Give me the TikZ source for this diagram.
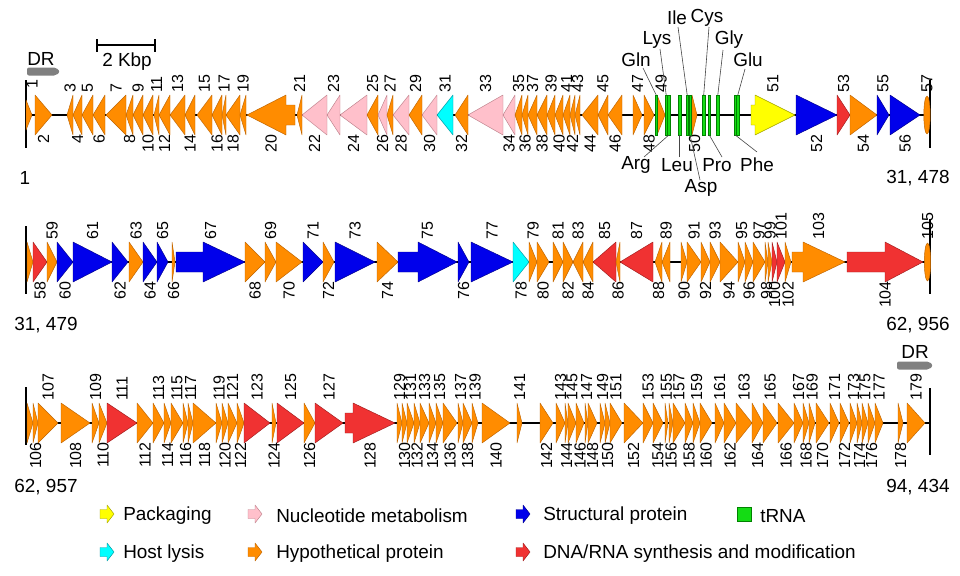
\documentclass[tikz,border=0pt]{standalone}
\usepackage{fontspec}
\setmainfont{Liberation Sans}
\definecolor{corange}{RGB}{255,140,0}
\definecolor{corangeD}{RGB}{190,100,0}
\definecolor{cpink}{RGB}{255,192,203}
\definecolor{cpinkD}{RGB}{190,130,140}
\definecolor{cblue}{RGB}{0,0,235}
\definecolor{cblueD}{RGB}{0,0,140}
\definecolor{ccyan}{RGB}{0,255,255}
\definecolor{ccyanD}{RGB}{0,150,160}
\definecolor{cred}{RGB}{240,50,50}
\definecolor{credD}{RGB}{160,30,30}
\definecolor{cyellow}{RGB}{255,255,0}
\definecolor{cyellowD}{RGB}{160,160,0}
\definecolor{cgreen}{RGB}{20,220,20}
\definecolor{cgreenD}{RGB}{0,130,0}
\definecolor{cgray}{RGB}{128,128,128}
\definecolor{cleader}{RGB}{70,70,70}
\tikzset{
 gO/.style={fill=corange,draw=corangeD,line width=0.35pt,line join=round},
 gP/.style={fill=cpink,draw=cpinkD,line width=0.35pt,line join=round},
 gB/.style={fill=cblue,draw=cblueD,line width=0.35pt,line join=round},
 gC/.style={fill=ccyan,draw=ccyanD,line width=0.35pt,line join=round},
 gR/.style={fill=cred,draw=credD,line width=0.35pt,line join=round},
 gY/.style={fill=cyellow,draw=cyellowD,line width=0.35pt,line join=round},
 gG/.style={fill=cgreen,draw=cgreenD,line width=0.3pt},
 lblt/.style={rotate=90,anchor=west,inner sep=0pt,font=\fontsize{12}{14}\selectfont},
 lblb/.style={rotate=90,anchor=east,inner sep=0pt,font=\fontsize{12}{14}\selectfont},
 big/.style={inner sep=0pt,font=\fontsize{14.2}{17}\selectfont},
 axisline/.style={line width=1.1pt,black},
 endline/.style={line width=1.1pt,black},
 leader/.style={line width=0.45pt,cleader},
}
\def\offt{-22}
\def\offb{19}
% triangle gene: y, tail x, apex x, style, label, side
\newcommand\gt[6]{%
 \draw[#4] (#2,#1-20) -- (#3,#1) -- (#2,#1+20) -- cycle;
 \node[lbl#6] (n#5) at ({(#2+#3)/2},{#1+\csname off#6\endcsname}) {#5};
}
% arrow gene with body: y, tail, head base, apex, style, label, side
\newcommand\ga[7]{%
 \draw[#5] (#2,#1-10) -- (#3,#1-10) -- (#3,#1-20) -- (#4,#1) -- (#3,#1+20) -- (#3,#1+10) -- (#2,#1+10) -- cycle;
 \node[lbl#7] (n#6) at ({(#2+#4)/2},{#1+\csname off#7\endcsname}) {#6};
}
\newcommand\trna[1]{\draw[gG] (#1-1.2,95) rectangle (#1+1.2,135);}
\newcommand\legicon[3]{\draw[#3] (#1-7,#2-4.5) -- (#1,#2-4.5) -- (#1,#2-9) -- (#1+7,#2) -- (#1,#2+9) -- (#1,#2+4.5) -- (#1-7,#2+4.5) -- cycle;}
\begin{document}
\begin{tikzpicture}[x=0.75pt,y=-0.75pt]
\useasboundingbox (0,0) rectangle (960,575);
\fill[white] (0,0) rectangle (960,575);
% ---------- header: DR and scale ----------
\fill[cgray,rounded corners=1.5pt] (27,67.5) -- (56,67.5) -- (60,71.5) -- (56,75.5) -- (27,75.5) -- cycle;
\node[big] (dr1) at (41,59) {DR};
\coordinate (sb1) at (97,45);
\coordinate (sb2) at (155,45);
\draw[line width=1pt] (sb1) -- (sb2);
\draw[line width=1pt] (97,39) -- (97,52);
\draw[line width=1pt] (155,39) -- (155,52);
\node[big] (kbp) at (127,62) {2 Kbp};
% ---------- row 1 ----------
\coordinate (r1s) at (26,115);
\coordinate (r1e) at (930,115);
\draw[axisline] (r1s) -- (r1e);
\draw[endline] (26,80) -- (26,148);
\draw[endline] (930,80) -- (930,148);
\node[big] (p1) at (25,178) {1};
\node[big] (p2) at (918,178) {31, 478};
\draw[gO] (26,100) -- (32,115) -- (26,130) -- cycle;
\node[lblt] (n1) at (32,89) {1};
\gt{115}{35}{52}{gO}{2}{b}
\gt{115}{73}{67}{gO}{3}{t}
\gt{115}{82}{73}{gO}{4}{b}
\gt{115}{93}{82}{gO}{5}{t}
\gt{115}{105}{93}{gO}{6}{b}
\gt{115}{126}{106}{gO}{7}{t}
\gt{115}{133}{126}{gO}{8}{b}
\gt{115}{143}{133}{gO}{9}{t}
\gt{115}{153}{143}{gO}{10}{b}
\gt{115}{159}{154}{gO}{11}{t}
\gt{115}{170}{159}{gO}{12}{b}
\gt{115}{185}{170}{gO}{13}{t}
\gt{115}{195}{185}{gO}{14}{b}
\gt{115}{212}{197}{gO}{15}{t}
\gt{115}{222}{212}{gO}{16}{b}
\gt{115}{226}{222}{gO}{17}{t}
\gt{115}{240}{226}{gO}{18}{b}
\gt{115}{246}{240}{gO}{19}{t}
\ga{115}{295}{286}{247}{gO}{20}{b}
\gt{115}{302}{297}{gO}{21}{t}
\gt{115}{327}{302}{gP}{22}{b}
\gt{115}{340}{327}{gP}{23}{t}
\gt{115}{367}{340}{gP}{24}{b}
\gt{115}{378}{367}{gO}{25}{t}
\gt{115}{387}{378}{gP}{26}{b}
\gt{115}{393}{387}{gO}{27}{t}
\gt{115}{409}{393}{gP}{28}{b}
\gt{115}{422}{409}{gO}{29}{t}
\gt{115}{437}{422}{gP}{30}{b}
\gt{115}{453}{437}{gC}{31}{t}
\gt{115}{468}{455}{gO}{32}{b}
\gt{115}{503}{468}{gP}{33}{t}
\gt{115}{515}{503}{gP}{34}{b}
\gt{115}{522}{515}{gO}{35}{t}
\gt{115}{528}{522}{gO}{36}{b}
\gt{115}{537}{528}{gO}{37}{t}
\gt{115}{547}{537}{gO}{38}{b}
\gt{115}{555}{547}{gO}{39}{t}
\gt{115}{563}{555}{gO}{40}{b}
\gt{115}{570}{563}{gO}{41}{t}
\gt{115}{575}{570}{gO}{42}{b}
\gt{115}{580}{575}{gO}{43}{t}
\gt{115}{598}{582}{gO}{44}{b}
\gt{115}{608}{598}{gO}{45}{t}
\gt{115}{622}{608}{gO}{46}{b}
\gt{115}{633}{642}{gO}{47}{t}
\gt{115}{644}{654}{gO}{48}{b}
\gt{115}{657}{665}{gO}{49}{t}
\gt{115}{692}{697}{gO}{50}{b}
\ga{115}{751}{755}{795}{gY}{51}{t}
\gt{115}{796}{837}{gB}{52}{b}
\gt{115}{837}{850}{gR}{53}{t}
\gt{115}{850}{877}{gO}{54}{b}
\gt{115}{877}{889}{gB}{55}{t}
\gt{115}{890}{920}{gB}{56}{b}
\draw[gO] (927,115) ellipse [x radius=3.2, y radius=19];
\node[lblt] (n57) at (927,93) {57};
% tRNA bars
\trna{656.2}\trna{666.2}\trna{668.8}\trna{679.7}\trna{687.2}\trna{690}
\trna{703.7}\trna{709.3}\trna{717.8}\trna{735.2}\trna{737.8}
\coordinate (b1) at (656.2,95);
\coordinate (b2) at (666.2,95);
\coordinate (b3) at (668.8,135);
\coordinate (b4) at (679.7,135);
\coordinate (b5) at (687.2,95);
\coordinate (b6) at (690,135);
\coordinate (b7) at (703.7,95);
\coordinate (b8) at (709.3,135);
\coordinate (b9) at (717.8,95);
\coordinate (b10) at (735.2,135);
\coordinate (b11) at (737.8,95);
\node[big] (Gln) at (636,60) {Gln};
\node[big] (Lys) at (657,40) {Lys};
\node[big] (Ile) at (677,18) {Ile};
\node[big] (Cys) at (707,18) {Cys};
\node[big] (Gly) at (729,40) {Gly};
\node[big] (Glu) at (748,60) {Glu};
\node[big] (Arg) at (636,165) {Arg};
\node[big] (Leu) at (677,165) {Leu};
\node[big] (Asp) at (701,188) {Asp};
\node[big] (Pro) at (717,165) {Pro};
\node[big] (Phe) at (757,165) {Phe};
\coordinate (lGln) at (643,68);
\coordinate (lLys) at (660,49);
\coordinate (lIle) at (678,27);
\coordinate (lCys) at (709,27);
\coordinate (lGly) at (723,50);
\coordinate (lGlu) at (745,69);
\coordinate (lArg) at (644,157);
\coordinate (lLeu) at (679.7,157);
\coordinate (lAsp) at (700,180);
\coordinate (lPro) at (722,157);
\coordinate (lPhe) at (757,152);
\draw[leader] (lGln) -- (b1);
\draw[leader] (lLys) -- (b2);
\draw[leader] (lIle) -- (b5);
\draw[leader] (lCys) -- (b7);
\draw[leader] (lGly) -- (b9);
\draw[leader] (lGlu) -- (b11);
\draw[leader] (lArg) -- (b3);
\draw[leader] (lLeu) -- (b4);
\draw[leader] (lAsp) -- (b6);
\draw[leader] (lPro) -- (b8);
\draw[leader] (lPhe) -- (b10);
% ---------- row 2 ----------
\coordinate (r2s) at (26,262);
\coordinate (r2e) at (930,262);
\draw[axisline] (r2s) -- (r2e);
\draw[endline] (26,226) -- (26,294);
\draw[endline] (930,219) -- (930,294);
\node[big] (p3) at (46,325) {31, 479};
\node[big] (p4) at (918,325) {62, 956};
\draw[gO] (27,242) -- (33,262) -- (27,282) -- cycle;
\gt{262}{33}{47}{gR}{58}{b}
\gt{262}{47}{57}{gO}{59}{t}
\gt{262}{57}{73}{gB}{60}{b}
\gt{262}{73}{112}{gB}{61}{t}
\gt{262}{112}{128}{gB}{62}{b}
\gt{262}{129}{143}{gO}{63}{t}
\gt{262}{143}{157}{gB}{64}{b}
\gt{262}{157}{168}{gB}{65}{t}
\gt{262}{172}{175}{gO}{66}{b}
\ga{262}{176}{203}{245}{gB}{67}{t}
\gt{262}{245}{265}{gO}{68}{b}
\gt{262}{265}{276}{gO}{69}{t}
\gt{262}{276}{302}{gO}{70}{b}
\gt{262}{303}{323}{gB}{71}{t}
\gt{262}{323}{334}{gO}{72}{b}
\gt{262}{335}{375}{gB}{73}{t}
\gt{262}{377}{398}{gO}{74}{b}
\ga{262}{398}{418}{457}{gB}{75}{t}
\gt{262}{458}{469}{gB}{76}{b}
\gt{262}{471}{513}{gB}{77}{t}
\gt{262}{513}{529}{gC}{78}{b}
\gt{262}{529}{537}{gO}{79}{t}
\gt{262}{537}{549}{gO}{80}{b}
\gt{262}{553}{563}{gO}{81}{t}
\gt{262}{563}{573}{gO}{82}{b}
\gt{262}{583}{573}{gO}{83}{t}
\gt{262}{593}{583}{gO}{84}{b}
\gt{262}{616}{593}{gR}{85}{t}
\gt{262}{620}{616}{gO}{86}{b}
\gt{262}{653}{620}{gR}{87}{t}
\gt{262}{662}{655}{gO}{88}{b}
\gt{262}{670}{662}{gO}{89}{t}
\gt{262}{681}{687}{gO}{90}{b}
\gt{262}{687}{701}{gO}{91}{t}
\gt{262}{701}{710}{gO}{92}{b}
\gt{262}{710}{720}{gO}{93}{t}
\gt{262}{720}{738}{gO}{94}{b}
\gt{262}{738}{745}{gO}{95}{t}
\gt{262}{745}{753}{gO}{96}{b}
\gt{262}{753}{765}{gO}{97}{t}
\gt{262}{765}{768}{gO}{98}{b}
\gt{262}{768}{772}{gO}{99}{t}
\gt{262}{772}{777}{gR}{100}{b}
\gt{262}{777}{785}{gR}{101}{t}
\gt{262}{785}{791}{gO}{102}{b}
\ga{262}{792}{803}{845}{gO}{103}{t}
\ga{262}{847}{885}{923}{gR}{104}{b}
\draw[gO] (927.5,262) ellipse [x radius=3.2, y radius=19];
\node[lblt] (n105) at (927.5,240) {105};
% ---------- row 3 ----------
\coordinate (r3s) at (26,423);
\coordinate (r3e) at (930,423);
\draw[axisline] (r3s) -- (r3e);
\draw[endline] (26,387) -- (26,445);
\draw[endline] (930,388) -- (930,455);
\node[big] (p5) at (46,487) {62, 957};
\node[big] (p6) at (918,487) {94, 434};
\fill[cgray,rounded corners=1.5pt] (897,361.5) -- (929,361.5) -- (933,365.5) -- (929,369.5) -- (897,369.5) -- cycle;
\node[big] (dr2) at (915,352) {DR};
\draw[gO] (27,403) -- (33,423) -- (27,443) -- cycle;
\gt{423}{33}{38}{gO}{106}{b}
\gt{423}{38}{58}{gO}{107}{t}
\gt{423}{61}{90}{gO}{108}{b}
\gt{423}{92}{99}{gO}{109}{t}
\gt{423}{99}{107}{gO}{110}{b}
\gt{423}{107}{137}{gR}{111}{t}
\gt{423}{137}{153}{gO}{112}{b}
\gt{423}{153}{164}{gO}{113}{t}
\gt{423}{164}{171}{gO}{114}{b}
\gt{423}{171}{183}{gO}{115}{t}
\gt{423}{183}{188}{gO}{116}{b}
\gt{423}{188}{193}{gO}{117}{t}
\gt{423}{193}{216}{gO}{118}{b}
\gt{423}{216}{222}{gO}{119}{t}
\gt{423}{222}{228}{gO}{120}{b}
\gt{423}{228}{237}{gO}{121}{t}
\gt{423}{237}{244}{gO}{122}{b}
\gt{423}{244}{270}{gR}{123}{t}
\gt{423}{272}{276}{gO}{124}{b}
\gt{423}{277}{304}{gR}{125}{t}
\gt{423}{304}{315}{gO}{126}{b}
\gt{423}{315}{343}{gR}{127}{t}
\ga{423}{345}{353}{395}{gR}{128}{b}
\gt{423}{397}{402}{gO}{129}{t}
\gt{423}{402}{407}{gO}{130}{b}
\gt{423}{407}{414}{gO}{131}{t}
\gt{423}{414}{420}{gO}{132}{b}
\gt{423}{420}{429}{gO}{133}{t}
\gt{423}{429}{436}{gO}{134}{b}
\gt{423}{436}{443}{gO}{135}{t}
\gt{423}{443}{457}{gO}{136}{b}
\gt{423}{458}{463}{gO}{137}{t}
\gt{423}{463}{472}{gO}{138}{b}
\gt{423}{472}{478}{gO}{139}{t}
\gt{423}{482}{510}{gO}{140}{b}
\gt{423}{517}{522}{gO}{141}{t}
\gt{423}{540}{553}{gO}{142}{b}
\gt{423}{556}{565}{gO}{143}{t}
\gt{423}{565}{568}{gO}{144}{b}
\gt{423}{568}{576}{gO}{145}{t}
\gt{423}{576}{584}{gO}{146}{b}
\gt{423}{585}{588}{gO}{147}{t}
\gt{423}{588}{597}{gO}{148}{b}
\gt{423}{600}{605}{gO}{149}{t}
\gt{423}{605}{610}{gO}{150}{b}
\gt{423}{610}{622}{gO}{151}{t}
\gt{423}{624}{643}{gO}{152}{b}
\gt{423}{643}{653}{gO}{153}{t}
\gt{423}{653}{663}{gO}{154}{b}
\gt{423}{665}{668}{gO}{155}{t}
\gt{423}{669}{673}{gO}{156}{b}
\gt{423}{673}{685}{gO}{157}{t}
\gt{423}{685}{693}{gO}{158}{b}
\gt{423}{693}{700}{gO}{159}{t}
\gt{423}{700}{712}{gO}{160}{b}
\gt{423}{715}{724}{gO}{161}{t}
\gt{423}{724}{736}{gO}{162}{b}
\gt{423}{736}{752}{gO}{163}{t}
\gt{423}{752}{763}{gO}{164}{b}
\gt{423}{763}{777}{gO}{165}{t}
\gt{423}{778}{794}{gO}{166}{b}
\gt{423}{794}{803}{gO}{167}{t}
\gt{423}{803}{809}{gO}{168}{b}
\gt{423}{809}{815}{gO}{169}{t}
\gt{423}{816}{829}{gO}{170}{b}
\gt{423}{830}{839}{gO}{171}{t}
\gt{423}{840}{849}{gO}{172}{b}
\gt{423}{850}{857}{gO}{173}{t}
\gt{423}{857}{862}{gO}{174}{b}
\gt{423}{862}{868}{gO}{175}{t}
\gt{423}{868}{875}{gO}{176}{b}
\gt{423}{875}{883}{gO}{177}{t}
\gt{423}{898}{903}{gO}{178}{b}
\gt{423}{907}{925}{gO}{179}{t}
% ---------- legend ----------
\legicon{107}{514}{gY}
\node[big,anchor=west] (lg1) at (123,516) {Packaging};
\legicon{255}{514}{gP}
\node[big,anchor=west] (lg2) at (276,516) {Nucleotide metabolism};
\legicon{523}{514}{gB}
\node[big,anchor=west] (lg3) at (543,516) {Structural protein};
\draw[gG] (737,507) rectangle (751,521);
\node[big,anchor=west] (lg4) at (760,516) {tRNA};
\legicon{107}{552}{gC}
\node[big,anchor=west] (lg5) at (123,554) {Host lysis};
\legicon{255}{552}{gO}
\node[big,anchor=west] (lg6) at (276,554) {Hypothetical protein};
\legicon{523}{552}{gR}
\node[big,anchor=west] (lg7) at (543,554) {DNA/RNA synthesis and modification};
\end{tikzpicture}
\end{document}
